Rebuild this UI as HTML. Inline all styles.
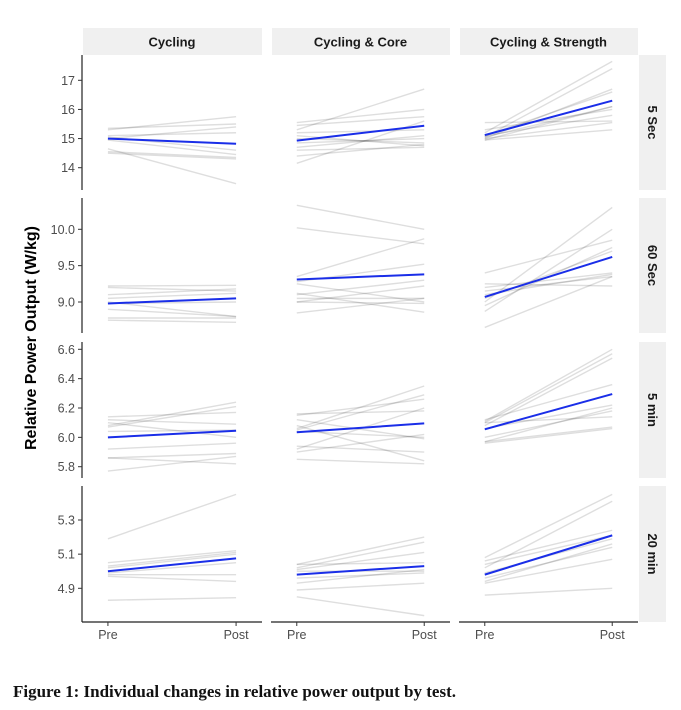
<!DOCTYPE html>
<html><head><meta charset="utf-8"><style>
body{margin:0;background:#fff;width:681px;height:710px;overflow:hidden}
svg{display:block}
.caption{position:absolute;left:13px;top:682px;font:bold 17px "Liberation Serif",serif;color:#111;letter-spacing:0px}
</style></head><body>
<svg id="chart" width="681" height="710" xmlns="http://www.w3.org/2000/svg"></svg>
<div class="caption">Figure 1: Individual changes in relative power output by test.</div>
<script>
const groups = ["Cycling","Cycling & Core","Cycling & Strength"];
const tests = ["5 Sec","60 Sec","5 min","20 min"];
const xLabels = ["Pre","Post"];
const yTicks = [[14,15,16,17],[9.0,9.5,10.0],[5.8,6.0,6.2,6.4,6.6],[4.9,5.1,5.3]];
const yTickLabels = [["14","15","16","17"],["9.0","9.5","10.0"],["5.8","6.0","6.2","6.4","6.6"],["4.9","5.1","5.3"]];
const means = [
 [[15.0,14.82],[14.93,15.44],[15.12,16.3]],
 [[8.98,9.05],[9.31,9.38],[9.07,9.62]],
 [[6.0,6.045],[6.035,6.095],[6.055,6.295]],
 [[5.0,5.075],[4.98,5.03],[4.98,5.21]]
];
const sec5 = [
 [[15.35,15.5],[15.3,15.75],[15.1,15.2],[15.0,15.4],[14.95,14.45],[14.55,14.35],[14.5,14.3],[14.65,13.45],[15.05,14.6]],
 [[15.55,16.0],[15.45,15.75],[15.3,16.7],[15.2,15.3],[15.0,14.85],[14.85,15.0],[14.7,15.1],[14.6,14.7],[14.4,14.8],[14.15,15.6],[15.1,14.75]],
 [[15.55,15.6],[15.3,16.0],[15.2,17.65],[15.05,17.4],[15.0,16.7],[15.1,16.6],[14.95,16.1],[15.1,15.8],[15.0,15.55],[14.95,15.3],[15.05,16.1]]
];
const sec60 = [
 [[9.22,9.23],[9.2,9.15],[9.1,9.18],[9.05,9.12],[8.98,9.0],[8.9,8.8],[8.78,8.78],[8.75,8.72],[9.0,8.8]],
 [[10.33,10.0],[10.02,9.8],[9.35,9.87],[9.28,9.52],[9.25,9.0],[9.1,9.3],[9.05,9.05],[9.0,9.22],[9.0,8.98],[8.85,9.05],[9.12,8.86]],
 [[9.4,9.85],[9.25,9.22],[9.2,9.4],[9.15,9.35],[9.0,10.3],[8.95,9.75],[8.87,10.0],[8.65,9.35],[9.1,9.38],[9.05,9.7]]
];
const min5 = [
 [[6.14,6.17],[6.12,6.09],[6.08,6.24],[6.07,6.21],[6.04,6.05],[5.92,5.96],[5.86,5.82],[5.86,5.89],[5.77,5.87],[6.1,6.0]],
 [[6.16,6.18],[6.15,6.26],[6.12,5.99],[6.08,5.84],[6.06,6.35],[6.05,6.29],[5.94,5.9],[5.92,6.2],[5.9,6.02],[5.85,5.82],[6.04,6.0]],
 [[6.11,6.6],[6.1,6.57],[6.08,6.54],[6.12,6.36],[6.1,6.14],[6.06,6.22],[5.97,6.07],[5.96,6.06],[5.97,6.2],[6.0,6.18]]
];
const min20 = [
 [[5.19,5.45],[5.05,5.12],[5.03,5.11],[5.02,5.10],[4.99,5.05],[4.98,4.98],[4.97,4.94],[4.83,4.845]],
 [[5.04,5.2],[5.04,5.05],[5.02,5.17],[5.01,5.11],[5.0,5.0],[4.96,4.99],[4.93,5.01],[4.89,4.93],[4.85,4.74]],
 [[5.08,5.45],[5.06,5.24],[5.04,5.21],[5.02,5.41],[4.99,5.19],[4.96,5.14],[4.94,5.16],[4.93,5.07],[4.86,4.90]]
];
const individuals = [sec5, sec60, min5, min20];

const NS="http://www.w3.org/2000/svg";
const svg=document.getElementById('chart');
const colX=[[82,262],[271,450],[459,638]];
const rowY=[[55,190],[198,333],[342,478],[486,622]];
const yRef=[[17,80.3,14,167.7],[10.0,229.3,9.0,302],[6.6,349.3,5.8,466.7],[5.3,520,4.9,588.3]];
function yScale(r,v){const [v1,p1,v2,p2]=yRef[r];return p1+(v-v1)*(p2-p1)/(v2-v1);}
function xScale(c,i){const [a,b]=colX[c];const w=b-a;return a+w*(0.144+i*0.712);}
function mk(tag,attrs,parent){const e=document.createElementNS(NS,tag);for(const k in attrs)e.setAttribute(k,attrs[k]);(parent||svg).appendChild(e);return e;}

groups.forEach((g,c)=>{
  const gr=mk('g',{});
  
  
  mk('rect',{x:colX[c][0]+1,y:28,width:colX[c][1]-colX[c][0]-1,height:27,fill:'#f0f0f0'},gr);
  const t=mk('text',{x:(colX[c][0]+colX[c][1])/2,y:46.5,'text-anchor':'middle','font-family':'Liberation Sans, sans-serif','font-size':'13','font-weight':'bold',fill:'#1a1a1a'},gr);
  t.textContent=g;
});
tests.forEach((tname,r)=>{
  const gr=mk('g',{});
  
  
  mk('rect',{x:639,y:rowY[r][0],width:27,height:rowY[r][1]-rowY[r][0],fill:'#f0f0f0'},gr);
  const cy=(rowY[r][0]+rowY[r][1])/2;
  const t=mk('text',{x:0,y:0,transform:`translate(648,${cy}) rotate(90)`,'text-anchor':'middle','font-family':'Liberation Sans, sans-serif','font-size':'13','font-weight':'bold',fill:'#1a1a1a'},gr);
  t.textContent=tname;
});
for(let r=0;r<4;r++){
  for(let c=0;c<3;c++){
    const p=mk('g',{});
    
    
    individuals[r][c].forEach(d=>{
      const l=mk('line',{x1:xScale(c,0),y1:yScale(r,d[0]),x2:xScale(c,1),y2:yScale(r,d[1]),stroke:'#000','stroke-opacity':'0.13','stroke-width':'1.4'},p);
      
      
    });
    const m=means[r][c];
    const ml=mk('line',{x1:xScale(c,0),y1:yScale(r,m[0]),x2:xScale(c,1),y2:yScale(r,m[1]),stroke:'#1a2ee8','stroke-width':'2'},p);
    
    
  }
  const ax=mk('g',{});
  
  
  mk('line',{x1:82,y1:rowY[r][0],x2:82,y2:rowY[r][1],stroke:'#222','stroke-width':'1.2'},ax);
  yTicks[r].forEach((v,i)=>{
    const y=yScale(r,v);
    mk('line',{x1:78,y1:y,x2:82,y2:y,stroke:'#333','stroke-width':'1'},ax);
    const t=mk('text',{x:75,y:y+4.5,'text-anchor':'end','font-family':'Liberation Sans, sans-serif','font-size':'12.5',fill:'#4d4d4d'},ax);
    t.textContent=yTickLabels[r][i];
  });
}
for(let c=0;c<3;c++){
  const ax=mk('g',{});
  
  
  mk('line',{x1:colX[c][0],y1:622,x2:colX[c][1],y2:622,stroke:'#222','stroke-width':'1.2'},ax);
  xLabels.forEach((lab,i)=>{
    const x=xScale(c,i);
    mk('line',{x1:x,y1:622,x2:x,y2:626,stroke:'#333','stroke-width':'1'},ax);
    const t=mk('text',{x:x,y:639,'text-anchor':'middle','font-family':'Liberation Sans, sans-serif','font-size':'12.5',fill:'#4d4d4d'},ax);
    t.textContent=lab;
  });
}
const yt=mk('text',{x:0,y:0,transform:'translate(36,338) rotate(-90)','text-anchor':'middle','font-family':'Liberation Sans, sans-serif','font-size':'16','font-weight':'bold',fill:'#000'});


yt.textContent='Relative Power Output (W/kg)';
</script>
</body></html>
